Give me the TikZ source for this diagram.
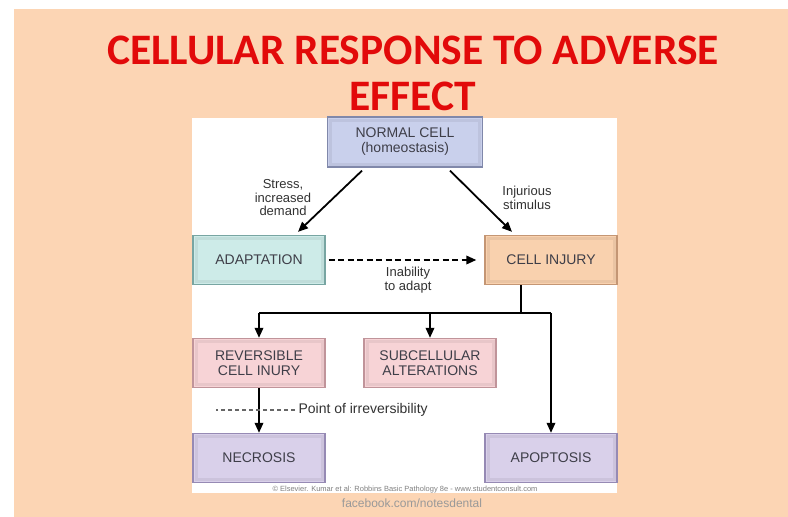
\documentclass[tikz,border=0pt]{standalone}
\usepackage{fontspec}
\setmainfont{Liberation Sans}
\newfontfamily\titlefont{Carlito}
\usetikzlibrary{arrows.meta}
\definecolor{slide}{RGB}{252,213,180}
\definecolor{titlered}{RGB}{226,10,10}
\definecolor{boxtext}{RGB}{62,62,72}
\definecolor{labeltext}{RGB}{50,50,50}
\definecolor{normalfill}{RGB}{201,208,236}
\definecolor{normalline}{RGB}{128,136,170}
\definecolor{adaptfill}{RGB}{205,235,232}
\definecolor{adaptline}{RGB}{120,165,162}
\definecolor{injuryfill}{RGB}{249,209,174}
\definecolor{injuryline}{RGB}{196,150,116}
\definecolor{revfill}{RGB}{247,211,214}
\definecolor{revline}{RGB}{192,148,154}
\definecolor{deathfill}{RGB}{217,208,234}
\definecolor{deathline}{RGB}{150,138,180}
\tikzstyle{cellbox} = [rectangle, minimum width=132pt, minimum height=49pt, align=center, line width=1.3pt, text=boxtext, font=\fontsize{14}{15}\selectfont,
    path picture={\draw [black, opacity=0.06, line width=3pt] ([shift={(3pt,-3pt)}]path picture bounding box.north west) rectangle ([shift={(-3pt,3pt)}]path picture bounding box.south east);}]
\tikzstyle{normalbox} = [cellbox, minimum width=155pt, minimum height=50pt, fill=normalfill, draw=normalline]
\tikzstyle{adaptbox} = [cellbox, fill=adaptfill, draw=adaptline]
\tikzstyle{injurybox} = [cellbox, fill=injuryfill, draw=injuryline]
\tikzstyle{revbox} = [cellbox, fill=revfill, draw=revline]
\tikzstyle{deathbox} = [cellbox, fill=deathfill, draw=deathline]
\tikzstyle{lbl} = [align=center, text=labeltext, font=\fontsize{13}{13.5}\selectfont]
\tikzstyle{arrow} = [line width=1.8pt,-{Triangle[length=10pt,width=8.5pt]}]
\tikzstyle{line} = [line width=1.8pt]
\begin{document}
\begin{tikzpicture}[x=1pt,y=-1pt]
    \useasboundingbox (0,0) rectangle (788,517);
    \fill [white] (0,0) rectangle (788,517);
    \fill [slide] (14,9) rectangle (788,517);
    \fill [white] (192,118) rectangle (617,493);
    \node [text=titlered, font=\titlefont\bfseries\fontsize{43.5}{46}\selectfont, align=center] at (413,73) (title) {CELLULAR RESPONSE TO ADVERSE\\EFFECT};
    \node [normalbox] at (405,142) (normal) {NORMAL CELL\\(homeostasis)};
    \node [adaptbox] at (259,260) (adapt) {ADAPTATION};
    \node [injurybox] at (551,260) (injury) {CELL INJURY};
    \node [revbox] at (259,363) (rev) {REVERSIBLE\\CELL INURY};
    \node [revbox] at (430,363) (sub) {SUBCELLULAR\\ALTERATIONS};
    \node [deathbox] at (259,458) (necrosis) {NECROSIS};
    \node [deathbox] at (551,458) (apoptosis) {APOPTOSIS};
    \node [lbl] at (283,198) (stress) {Stress,\\increased\\demand};
    \node [lbl] at (527,198) (stimulus) {Injurious\\stimulus};
    \node [lbl] at (408,280) (inability) {Inability\\to adapt};
    \node [lbl, anchor=west, font=\fontsize{14}{15}\selectfont] at (295,410) (irrev) {Point of irreversibility};
    \draw [arrow] ([xshift=-43pt,yshift=-3pt]normal.south) -- ([xshift=39pt,yshift=3pt]adapt.north);
    \draw [arrow] ([xshift=45pt,yshift=-3pt]normal.south) -- ([xshift=-39pt,yshift=3pt]injury.north);
    \draw [arrow, dash pattern=on 6pt off 3.5pt, shorten <=3pt, shorten >=8pt] (adapt) -- (injury);
    \draw [line] ([xshift=-30pt]injury.south) -- ++(0,28) coordinate (split);
    \draw [line] (rev.north |- split) -- (apoptosis.north |- split);
    \draw [arrow] (rev.north |- split) -- (rev.north);
    \draw [arrow] (sub.north |- split) -- (sub.north);
    \draw [arrow] (apoptosis.north |- split) -- (apoptosis.north);
    \draw [arrow] (rev) -- (necrosis);
    \draw [dash pattern=on 4pt off 3pt, line width=1.1pt, gray!80!black] (irrev.west) -- ++(-79,0);
    \node [text=gray, font=\fontsize{7.5}{8}\selectfont] at (405,490) (credit) {\textcopyright{} Elsevier. Kumar et al: Robbins Basic Pathology 8e - www.studentconsult.com};
    \node [text=gray!80, font=\fontsize{12}{13}\selectfont] at (412,503) (facebook) {facebook.com/notesdental};
\end{tikzpicture}
\end{document}
